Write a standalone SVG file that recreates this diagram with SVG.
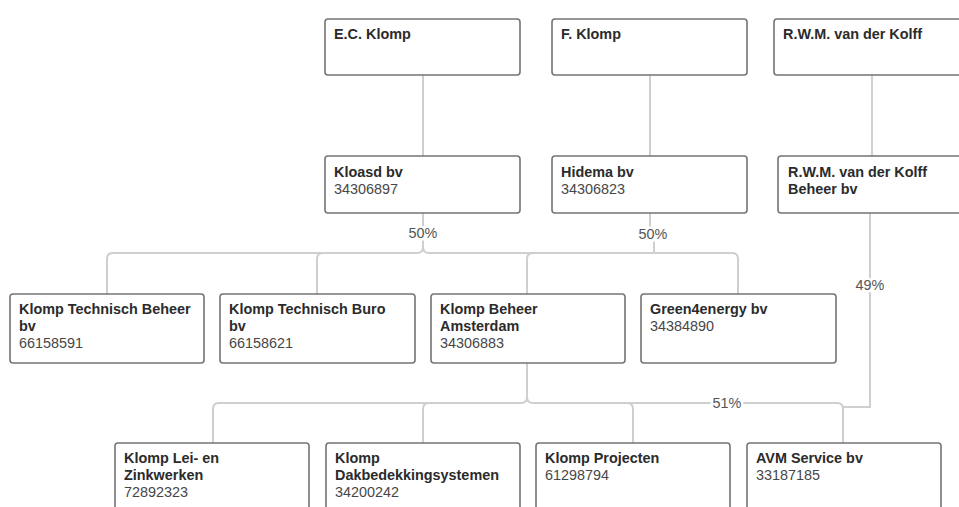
<svg xmlns="http://www.w3.org/2000/svg" width="959" height="507" viewBox="0 0 959 507">
<style>
.box{fill:#fff;stroke:#747474;stroke-width:1.6}
.t{font-family:"Liberation Sans",Arial,sans-serif;font-size:14.4px;font-weight:bold;fill:#2b2b2b}
.n{font-family:"Liberation Sans",Arial,sans-serif;font-size:14.4px;fill:#474747}
.c{fill:none;stroke:#cfcfcf;stroke-width:2}
.lbl{font-family:"Liberation Sans",Arial,sans-serif;font-size:14.4px;fill:#555;text-anchor:middle;stroke:#fff;stroke-width:5;paint-order:stroke}
</style>
<rect width="959" height="507" fill="#fff"/>
<g id="connectors">
<path class="c" d="M423,75 V156"/>
<path class="c" d="M650,75 V156"/>
<path class="c" d="M872,75 V156"/>
<path class="c" d="M423,213 V247 Q423,253 417,253 H113 Q107,253 107,259 V294"/>
<path class="c" d="M423,247 Q423,253 429,253 H732 Q738,253 738,259 V294"/>
<path class="c" d="M317,294 V259 Q317,253 323,253"/>
<path class="c" d="M527,294 V259 Q527,253 533,253"/>
<path class="c" d="M650,213 V232 H654 V253"/>
<path class="c" d="M527,363 V397 Q527,403 521,403 H219 Q213,403 213,409 V443"/>
<path class="c" d="M527,397 Q527,403 533,403 H837 Q843,403 843,409 V443"/>
<path class="c" d="M423,443 V409 Q423,403 429,403"/>
<path class="c" d="M633,443 V409 Q633,403 627,403"/>
<path class="c" d="M870,213 V407 H843"/>
<text class="lbl" x="423" y="238">50%</text>
<text class="lbl" x="653" y="239">50%</text>
<text class="lbl" x="870" y="290">49%</text>
<text class="lbl" x="727" y="408">51%</text>
</g>
<g id="ec-klomp"><rect class="box" x="325" y="19" width="195" height="56" rx="3"/><text class="t" x="334" y="39">E.C. Klomp</text></g>
<g id="f-klomp"><rect class="box" x="552" y="19" width="195" height="56" rx="3"/><text class="t" x="561" y="39">F. Klomp</text></g>
<g id="rwm"><rect class="box" x="774" y="19" width="195" height="56" rx="3"/><text class="t" x="783" y="39">R.W.M. van der Kolff</text></g>
<g id="kloasd"><rect class="box" x="325" y="156" width="195" height="57" rx="3"/><text class="t" x="334" y="177">Kloasd bv</text><text class="n" x="334" y="194">34306897</text></g>
<g id="hidema"><rect class="box" x="552" y="156" width="195" height="57" rx="3"/><text class="t" x="561" y="177">Hidema bv</text><text class="n" x="561" y="194">34306823</text></g>
<g id="rwm-beheer"><rect class="box" x="778" y="156" width="195" height="57" rx="3"/><text class="t" x="788" y="177">R.W.M. van der Kolff</text><text class="t" x="788" y="194">Beheer bv</text></g>
<g id="ktbeheer"><rect class="box" x="10" y="294" width="194" height="69" rx="3"/><text class="t" x="19" y="314">Klomp Technisch Beheer</text><text class="t" x="19" y="331">bv</text><text class="n" x="19" y="348">66158591</text></g>
<g id="ktburo"><rect class="box" x="220" y="294" width="195" height="69" rx="3"/><text class="t" x="229" y="314">Klomp Technisch Buro</text><text class="t" x="229" y="331">bv</text><text class="n" x="229" y="348">66158621</text></g>
<g id="kba"><rect class="box" x="431" y="294" width="194" height="69" rx="3"/><text class="t" x="440" y="314">Klomp Beheer</text><text class="t" x="440" y="331">Amsterdam</text><text class="n" x="440" y="348">34306883</text></g>
<g id="green4energy"><rect class="box" x="641" y="294" width="195" height="69" rx="3"/><text class="t" x="650" y="314">Green4energy bv</text><text class="n" x="650" y="331">34384890</text></g>
<g id="lei"><rect class="box" x="115" y="443" width="194" height="70" rx="3"/><text class="t" x="124" y="463">Klomp Lei- en</text><text class="t" x="124" y="480">Zinkwerken</text><text class="n" x="124" y="497">72892323</text></g>
<g id="dak"><rect class="box" x="326" y="443" width="194" height="70" rx="3"/><text class="t" x="335" y="463">Klomp</text><text class="t" x="335" y="480">Dakbedekkingsystemen</text><text class="n" x="335" y="497">34200242</text></g>
<g id="projecten"><rect class="box" x="536" y="443" width="194" height="70" rx="3"/><text class="t" x="545" y="463">Klomp Projecten</text><text class="n" x="545" y="480">61298794</text></g>
<g id="avm"><rect class="box" x="747" y="443" width="194" height="70" rx="3"/><text class="t" x="756" y="463">AVM Service bv</text><text class="n" x="756" y="480">33187185</text></g>
</svg>
